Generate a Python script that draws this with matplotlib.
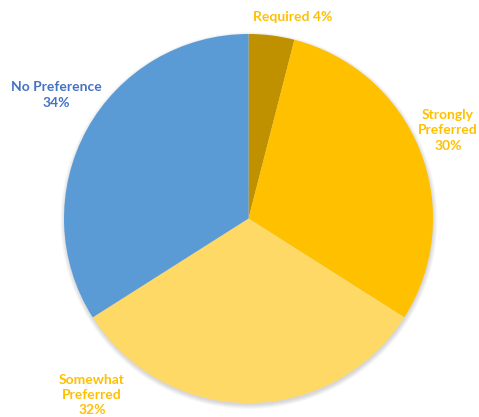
import matplotlib.pyplot as plt
from matplotlib.patches import Circle

# Survey answer shares
categories = ["Required", "Strongly\nPreferred", "Somewhat\nPreferred", "No Preference"]
shares = [4, 30, 32, 34]
slice_colors = ["#BF9000", "#FFC000", "#FFD966", "#5B9BD5"]
label_colors = ["#FFC000", "#FFC000", "#FFC000", "#4472C4"]

W, H = 479, 417
fig = plt.figure(figsize=(W / 100, H / 100), dpi=100)
ax = fig.add_axes([0, 0, 1, 1])

cx, cy, r = 248.5, H - 218.5, 184.5

# soft drop shadow under the pie
for i in range(8):
    ax.add_patch(Circle((cx + 0.5, cy - 2.0), r + 4 - i * 0.6,
                        color="black", alpha=0.018, lw=0, zorder=0))

wedges, _ = ax.pie(shares, colors=slice_colors, startangle=90, counterclock=False,
                   center=(cx, cy), radius=r, frame=True,
                   wedgeprops=dict(linewidth=0))
ax.set_xlim(0, W)
ax.set_ylim(0, H)
ax.set_aspect("equal")
ax.axis("off")

# label placement (pixel positions, y from top)
label_pos = [(293, 17), (448, 130), (92, 395), (56, 95)]
font = dict(family=["Lato", "DejaVu Sans"], fontweight="bold", fontsize=10)
for name, val, col, (x, y) in zip(categories, shares, label_colors, label_pos):
    sep = " " if name == "Required" else "\n"
    ax.text(x, H - y, f"{name}{sep}{val}%", color=col, ha="center", va="center",
            linespacing=1.35, **font)

fig.savefig("out.png", dpi=100)
